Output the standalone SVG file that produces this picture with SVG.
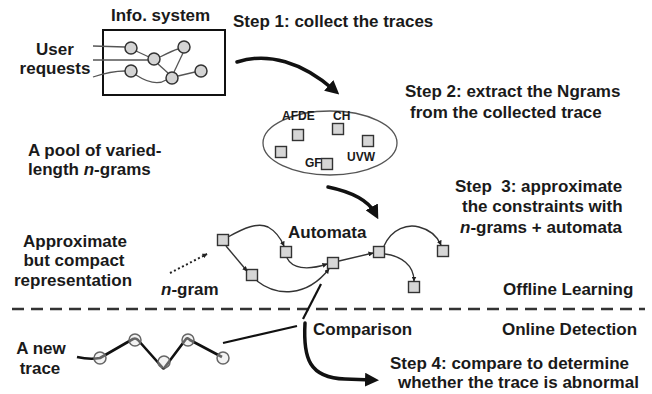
<svg xmlns="http://www.w3.org/2000/svg" width="652" height="394" viewBox="0 0 652 394">
<style>
  text { font-family: "Liberation Sans", Arial, sans-serif; font-weight: bold; fill: #1a1a1a; }
  .t17 { font-size: 17px; }
  .t12 { font-size: 12px; }
  .mid { text-anchor: middle; }
  .it { font-style: italic; }
  .thin { fill: none; stroke: #555; stroke-width: 1.3; }
  .circ { fill: #d4d4d4; stroke: #333; stroke-width: 1.5; }
  .tcirc { fill: #e0e0e0; fill-opacity: 0.4; stroke: #666; stroke-width: 1.5; }
  .sq { fill: #d6d6d6; stroke: #333; stroke-width: 1.4; }
  .edge { fill: none; stroke: #333; stroke-width: 1.4; marker-end: url(#small); }
  .thick { fill: none; stroke: #111; stroke-width: 3.5; stroke-linecap: round; marker-end: url(#big); }
  .line2 { fill: none; stroke: #111; stroke-width: 2.2; }
</style>
<defs>
  <marker id="small" viewBox="0 0 10 10" refX="9" refY="5" markerWidth="5" markerHeight="5" orient="auto" markerUnits="userSpaceOnUse">
    <path d="M0,0 L10,5 L0,10 z" fill="#222"/>
  </marker>
  <marker id="big" viewBox="0 0 10 10" refX="5" refY="5" markerWidth="14" markerHeight="14" orient="auto" markerUnits="userSpaceOnUse">
    <path d="M0,0 L10,5 L0,10 z" fill="#111"/>
  </marker>
</defs>
<rect width="652" height="394" fill="#ffffff"/>

<g id="info-system">
  <text class="t17" x="111" y="21">Info. system</text>
  <rect x="103" y="30" width="122" height="65" fill="none" stroke="#111" stroke-width="2"/>
  <path class="thin" d="M93,46 L125,47"/>
  <path class="thin" d="M93,60 L148,60"/>
  <path class="thin" d="M93,77 C105,73 115,71 125,71"/>
  <path class="thin" d="M136,51 L149,57"/>
  <path class="thin" d="M160,57 C168,53 174,50 178,49"/>
  <path class="thin" d="M183,53 L174,72"/>
  <path class="thin" d="M158,64 L168,73"/>
  <path class="thin" d="M178,76 L195,72"/>
  <path class="thin" d="M136,75 C150,84 160,84 166,80"/>
  <circle class="circ" cx="131" cy="48" r="6"/>
  <circle class="circ" cx="154" cy="59" r="6"/>
  <circle class="circ" cx="184" cy="47" r="6"/>
  <circle class="circ" cx="131" cy="71" r="6"/>
  <circle class="circ" cx="172" cy="78" r="6"/>
  <circle class="circ" cx="201" cy="71" r="6"/>
</g>

<g id="user-requests">
  <text class="t17 mid" x="55" y="55">User</text>
  <text class="t17 mid" x="55" y="74">requests</text>
</g>

<g id="step1">
  <text class="t17" x="233" y="27">Step 1: collect the traces</text>
</g>

<g id="step2">
  <text class="t17" x="405" y="97">Step 2: extract the Ngrams</text>
  <text class="t17" x="410" y="118">from the collected trace</text>
</g>

<g id="ngram-pool">
  <ellipse cx="330" cy="143" rx="67" ry="32" fill="none" stroke="#555" stroke-width="1.3"/>
  <text class="t12" x="282" y="120">AFDE</text>
  <text class="t12" x="333" y="120">CH</text>
  <text class="t12" x="305" y="167">GF</text>
  <text class="t12" x="347" y="161">UVW</text>
  <rect class="sq" x="292.5" y="129.5" width="11" height="11"/>
  <rect class="sq" x="332.5" y="123.5" width="11" height="11"/>
  <rect class="sq" x="362.5" y="135.5" width="11" height="11"/>
  <rect class="sq" x="275.5" y="146.5" width="11" height="11"/>
  <rect class="sq" x="321.5" y="158.5" width="11" height="11"/>
</g>

<g id="pool-label">
  <text class="t17" x="28" y="156">A pool of varied-</text>
  <text class="t17" x="28" y="175">length <tspan class="it">n</tspan>-grams</text>
</g>

<g id="step3">
  <text class="t17" x="455" y="192" xml:space="preserve">Step  3: approximate</text>
  <text class="t17" x="462" y="212">the constraints with</text>
  <text class="t17" x="460" y="233"><tspan class="it">n</tspan>-grams + automata</text>
</g>

<g id="approx-label">
  <text class="t17 mid" x="75" y="247">Approximate</text>
  <text class="t17 mid" x="74" y="266">but compact</text>
  <text class="t17 mid" x="73" y="286">representation</text>
</g>

<g id="ngram-label">
  <text class="t17" x="161" y="295"><tspan class="it">n</tspan>-gram</text>
</g>

<g id="automata">
  <text class="t17" x="288" y="238">Automata</text>
  <rect class="sq" x="217.5" y="234.5" width="11" height="11"/>
  <rect class="sq" x="280.5" y="246.5" width="11" height="11"/>
  <rect class="sq" x="327.5" y="257.5" width="11" height="11"/>
  <rect class="sq" x="246.5" y="269.5" width="11" height="11"/>
  <rect class="sq" x="373.5" y="246.5" width="11" height="11"/>
  <rect class="sq" x="437.5" y="245.5" width="11" height="11"/>
  <rect class="sq" x="408.5" y="281.5" width="11" height="11"/>
</g>

<g id="offline-label">
  <text class="t17" x="503" y="295">Offline Learning</text>
</g>

<g id="comparison">
  <text class="t17" x="313" y="335">Comparison</text>
</g>

<g id="online-label">
  <text class="t17" x="502" y="335">Online Detection</text>
</g>

<g id="new-trace">
  <text class="t17 mid" x="41" y="354">A new</text>
  <text class="t17 mid" x="40" y="374">trace</text>
  <path d="M77,357 C86,359 94,359 100,358 L133,339 C135,338 136,338 138,340 L162,367 C163,369 164,369 165,367 L186,339 C187,338 188,338 190,340 L222,357" fill="none" stroke="#111" stroke-width="2.6" stroke-linejoin="round"/>
  <circle class="tcirc" cx="100" cy="358" r="6"/>
  <circle class="tcirc" cx="135" cy="340" r="6"/>
  <circle class="tcirc" cx="164" cy="362" r="6"/>
  <circle class="tcirc" cx="188" cy="340" r="6"/>
  <circle class="tcirc" cx="223" cy="358" r="6"/>
</g>

<g id="step4">
  <text class="t17" x="390" y="369">Step 4: compare to determine</text>
  <text class="t17" x="398" y="388">whether the trace is abnormal</text>
</g>

<g id="connectors">
  <path class="thick" d="M237,62 C268,52 302,62 334,90"/>
  <path class="thick" d="M328,187 C352,192 368,200 375,213"/>
  <path d="M170,273 L207,254" fill="none" stroke="#222" stroke-width="2" stroke-dasharray="2,2.5" marker-end="url(#small)"/>
  <path class="edge" d="M228,237 C244,228 258,222 268,227 C277,232 281,239 284,246"/>
  <path class="edge" d="M226,246 L247,271"/>
  <path class="edge" d="M287,258 C292,268 306,271 327,264"/>
  <path class="edge" d="M257,281 C276,296 306,298 329,269"/>
  <path class="edge" d="M339,261 L373,253"/>
  <path class="edge" d="M384,246 C392,228 408,224 419,227 C431,230 438,238 441,245"/>
  <path class="edge" d="M385,254 C401,256 414,265 414,281"/>
  <line x1="12" y1="309" x2="645" y2="309" stroke="#333" stroke-width="2.5" stroke-dasharray="12,7"/>
  <path class="line2" d="M321,284 L303,319"/>
  <path class="line2" d="M223,343 L297,326"/>
  <path d="M305,323 C303,358 309,378 345,379 L372,380" fill="none" stroke="#111" stroke-width="3.5" stroke-linecap="round" marker-end="url(#big)"/>
</g>
</svg>
